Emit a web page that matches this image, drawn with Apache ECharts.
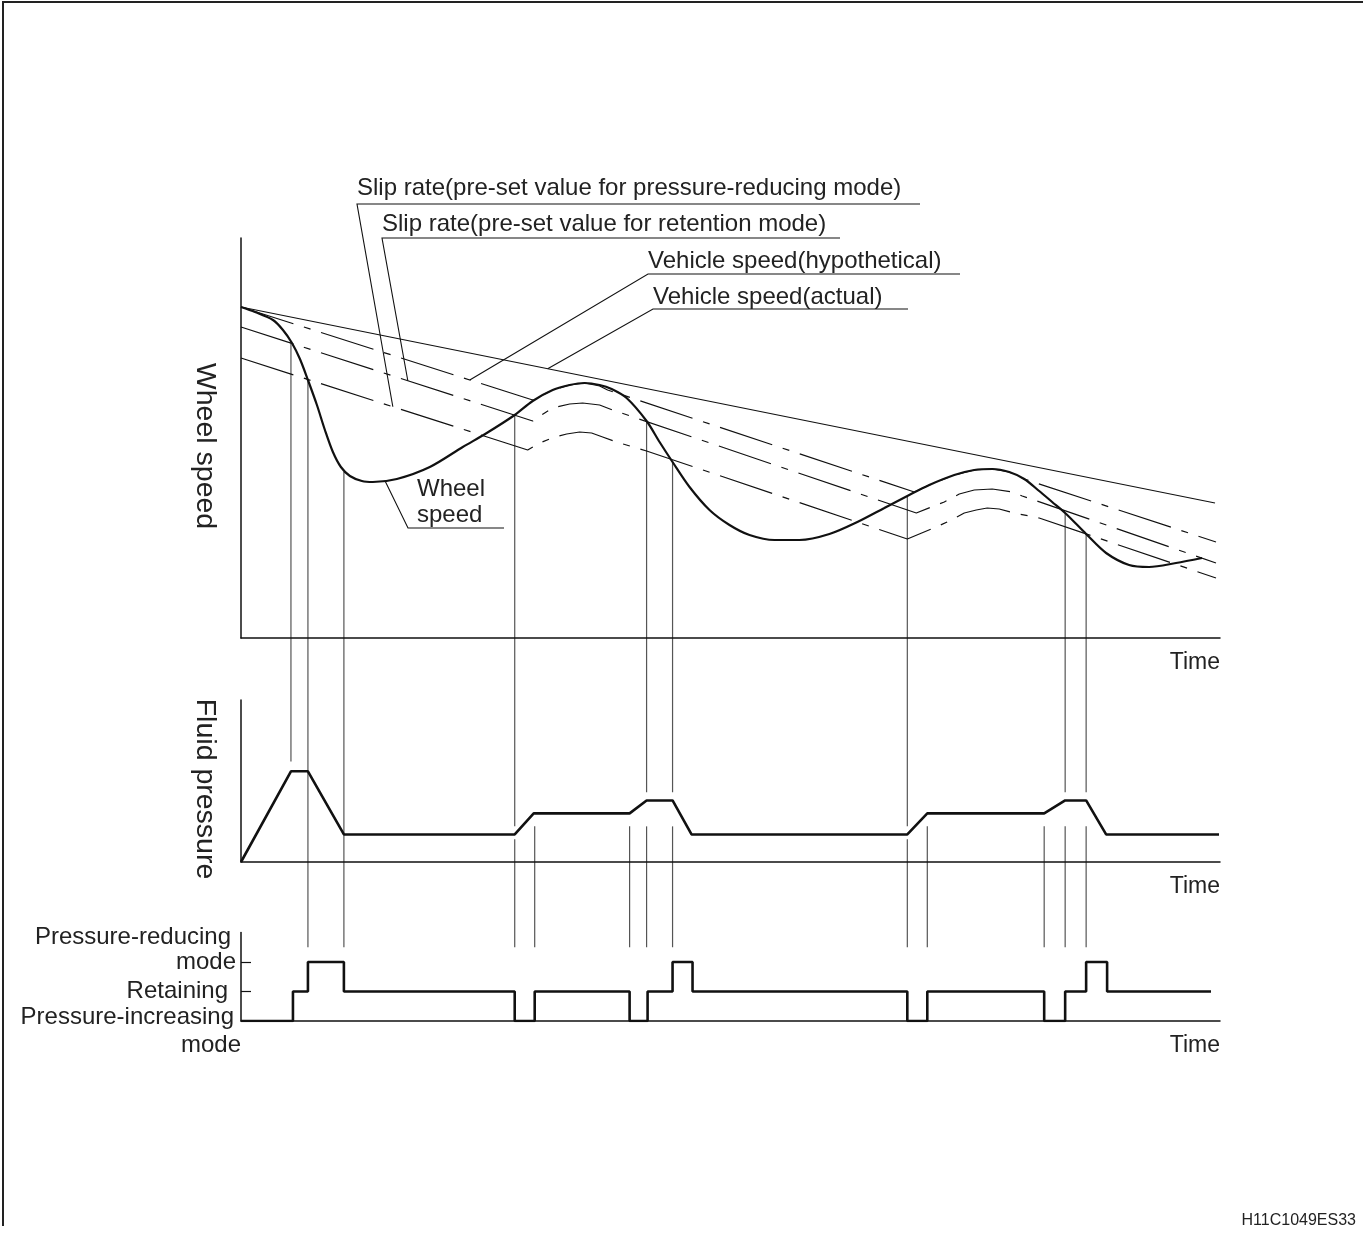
<!DOCTYPE html>
<html>
<head>
<meta charset="utf-8">
<title>Wheel speed, fluid pressure and control mode</title>
<script src="https://cdn.jsdelivr.net/npm/echarts@6/dist/echarts.min.js"></script>
<style>
  html, body { margin: 0; padding: 0; background: #fff; }
  #chart { width: 1363px; height: 1238px; }
</style>
</head>
<body>
<div id="chart"></div>
<script>
// shared time scale (arbitrary units) for all three panels
const timeMax = 98;

// upper panel: [time, speed]
const wheelSpeed = [
  [0, 82.75], [1.4, 81.5], [3.2, 79.5], [4.2, 77], [5.1, 73.75], [5.9, 69.75],
  [6.7, 64.5], [7.6, 58.25], [8.4, 52], [9.2, 46.5], [10.0, 42.75], [10.9, 40.5],
  [12.1, 39.25], [13.2, 39], [15.6, 39.75], [18.9, 42.75], [22.2, 47.75], [24.6, 51.25],
  [27.4, 55.75], [29.2, 59.25], [31.2, 62], [32.9, 63.25], [34.4, 63.75], [35.9, 63.25],
  [37.1, 62.25], [38.6, 60], [40.6, 54.25], [41.9, 49], [43.2, 44], [44.9, 37.75],
  [46.9, 32], [48.9, 28.25], [50.9, 25.75], [53.4, 24.5], [55.9, 24.5], [58.9, 26],
  [61.9, 29.25], [64.4, 32.5], [66.7, 35.5], [68.9, 38.25], [71.4, 40.75], [73.4, 42],
  [75.2, 42.25], [76.9, 41.5], [78.4, 39.75], [79.9, 36.75], [81.2, 34], [82.5, 31.25],
  [84.6, 26], [86.6, 21.25], [88.9, 18.25], [90.9, 17.75], [93.6, 18.75], [96.2, 20]
];
const vehicleActual = [[0, 82.75], [97.5, 33.75]];
const vehicleHypothetical = [
  [0, 82.75], [29.2, 59.5], [31.2, 62], [32.9, 63.25], [34.4, 63.75], [35.9, 63],
  [36.7, 62], [67.4, 36.5], [68.9, 38.25], [71.4, 40.75], [73.4, 42], [75.2, 42.25],
  [76.9, 41.5], [78.4, 39.75], [97.6, 24]
];
const slipRetention = [
  [0, 77.75], [29.2, 54.25], [30.4, 56.25], [31.2, 57.5], [32.9, 58.5], [34.2, 58.75],
  [35.9, 58.25], [37.2, 57], [67.6, 31.25], [69.1, 32.75], [70.4, 34], [71.9, 36],
  [73.4, 37], [75.2, 37.25], [77.2, 36.5], [78.2, 35.5], [79.1, 34.75], [97.6, 18.75]
];
const slipReducing = [
  [0, 70], [28.7, 47], [29.9, 48.75], [31.4, 50.25], [32.6, 51], [33.9, 51.5],
  [35.1, 51.25], [36.2, 50.25], [37.6, 49], [40.6, 46.75], [66.7, 24.75], [67.9, 26],
  [69.6, 27.75], [70.9, 29.25], [72.4, 31.25], [73.6, 32], [74.7, 32.5], [75.9, 32.25],
  [77.4, 31.25], [78.9, 30.5], [79.9, 30], [97.6, 15]
];

// middle panel: [time, pressure]
const fluidPressure = [
  [0, 0], [5.0, 5.6], [6.7, 5.6], [10.3, 1.7], [27.4, 1.7], [29.3, 3.0], [38.9, 3.0],
  [40.6, 3.8], [43.2, 3.8], [45.1, 1.7], [66.7, 1.7], [68.7, 3.0], [80.4, 3.0],
  [82.5, 3.8], [84.6, 3.8], [86.6, 1.7], [97.9, 1.7]
];

// lower panel: control mode (0 increasing, 1 retaining, 2 reducing), held from each time
const modeTimes = [0, 5.2, 6.7, 10.3, 27.4, 29.4, 38.9, 40.7, 43.2, 45.2, 66.7, 68.7, 80.4, 82.5, 84.6, 86.7, 97.1];
const modeLevels = [0, 1, 2, 1, 0, 1, 0, 1, 2, 1, 0, 1, 0, 1, 2, 1, 1];
const modeTickLabels = [['Pressure-increasing', 'mode'], ['Retaining'], ['Pressure-reducing', 'mode']];

// vertical guide lines: time, and spans [panel, value, panel, value]
const guides = [
  [5.0, [[0, 74, 1, 6.2]]],
  [6.7, [[0, 64.5, 2, 2.5]]],
  [10.3, [[0, 41.5, 2, 2.5]]],
  [27.4, [[0, 55.75, 1, 2.2], [1, 1.4, 2, 2.5]]],
  [29.4, [[1, 2.2, 2, 2.5]]],
  [38.9, [[1, 2.2, 2, 2.5]]],
  [40.6, [[0, 54.25, 1, 4.3], [1, 2.2, 2, 2.5]]],
  [43.2, [[0, 44, 1, 4.3], [1, 2.2, 2, 2.5]]],
  [66.7, [[0, 35.5, 1, 2.2], [1, 1.4, 2, 2.5]]],
  [68.7, [[1, 2.2, 2, 2.5]]],
  [80.4, [[1, 2.2, 2, 2.5]]],
  [82.5, [[0, 31.25, 1, 4.3], [1, 2.2, 2, 2.5]]],
  [84.6, [[0, 26, 1, 4.3], [1, 2.2, 2, 2.5]]]
];

const calloutTexts = [
  'Slip rate(pre-set value for pressure-reducing mode)',
  'Slip rate(pre-set value for retention mode)',
  'Vehicle speed(hypothetical)',
  'Vehicle speed(actual)',
  'Wheel\nspeed'
];

const FONT = '"Liberation Sans", Arial, Helvetica, sans-serif';
const INK = '#111';
const TEXT = '#222';
const dashDot = [55, 11, 7, 11];

const chart = echarts.init(document.getElementById('chart'));

function timeAxis(gridIndex) {
  return {
    gridIndex,
    type: 'value',
    min: 0,
    max: timeMax,
    axisLine: { show: true, lineStyle: { color: INK, width: 1.5 } },
    axisTick: { show: false },
    axisLabel: { show: false },
    splitLine: { show: false },
    name: 'Time',
    nameLocation: 'end',
    nameGap: 0,
    nameTextStyle: {
      color: TEXT, fontSize: 23, fontFamily: FONT,
      align: 'right', verticalAlign: 'top', padding: [13, 0, 0, 0]
    }
  };
}

function sideAxis(gridIndex, max, name) {
  return {
    gridIndex,
    type: 'value',
    min: 0,
    max,
    axisLine: { show: true, lineStyle: { color: INK, width: 1.5 } },
    axisTick: { show: false },
    axisLabel: { show: false },
    splitLine: { show: false },
    name,
    nameLocation: 'middle',
    nameRotate: -90,
    nameGap: 22,
    nameTextStyle: { color: TEXT, fontSize: 28.5, fontFamily: FONT, padding: [0, 0, 0, 16] }
  };
}

function line(name, data, gridIndex, width, type) {
  return {
    name,
    type: 'line',
    xAxisIndex: gridIndex,
    yAxisIndex: gridIndex,
    data,
    showSymbol: false,
    silent: true,
    lineStyle: { color: INK, width, type: type || 'solid' }
  };
}

const modeAxis = sideAxis(2, 3, '');
modeAxis.axisTick = {
  show: true, inside: true, length: 10, customValues: [1, 2],
  lineStyle: { color: INK, width: 1.2 }
};

const wheelSeries = line('Wheel speed', wheelSpeed, 0, 2.2);
wheelSeries.smooth = 0.3;

const modeSeries = line('Mode', modeTimes.map((t, i) => [t, modeLevels[i]]), 2, 2.6);
modeSeries.step = 'end';

chart.setOption({
  animation: false,
  backgroundColor: '#fff',
  title: {
    text: 'H11C1049ES33',
    right: 2,
    bottom: 4,
    textStyle: { color: TEXT, fontSize: 16, fontWeight: 'normal', fontFamily: FONT }
  },
  grid: [
    { left: 241, top: 238, width: 979, height: 400 },
    { left: 241, top: 700, width: 979, height: 162 },
    { left: 241, top: 932.5, width: 979, height: 88.5 }
  ],
  xAxis: [timeAxis(0), timeAxis(1), timeAxis(2)],
  yAxis: [sideAxis(0, 100, 'Wheel speed'), sideAxis(1, 10, 'Fluid pressure'), modeAxis],
  series: [
    line('Vehicle speed(actual)', vehicleActual, 0, 1.2),
    line('Vehicle speed(hypothetical)', vehicleHypothetical, 0, 1.2, dashDot),
    line('Slip rate retention', slipRetention, 0, 1.2, dashDot),
    line('Slip rate reducing', slipReducing, 0, 1.2, dashDot),
    wheelSeries,
    line('Fluid pressure', fluidPressure, 1, 2.6),
    modeSeries
  ]
});

// helpers working through the axes' own scales
function px(gridIndex, t, v) {
  return chart.convertToPixel({ gridIndex }, [t, v]);
}
function valueAt(data, t) {
  for (let i = 1; i < data.length; i++) {
    if (t <= data[i][0]) {
      const [t0, v0] = data[i - 1], [t1, v1] = data[i];
      return v0 + (v1 - v0) * (t - t0) / (t1 - t0);
    }
  }
  return data[data.length - 1][1];
}
function text(str, x, y, align) {
  return {
    type: 'text', silent: true, x, y,
    style: {
      text: str, fill: TEXT, fontSize: 24, fontFamily: FONT,
      lineHeight: 26, align: align || 'left', verticalAlign: 'middle'
    }
  };
}

const elements = [];

// frame
elements.push({
  type: 'polyline', silent: true,
  shape: { points: [[3, 1226], [3, 2], [1363, 2]] },
  style: { stroke: '#222', lineWidth: 2, fill: null }
});

guides.forEach(([t, spans]) => {
  spans.forEach(([g1, v1, g2, v2]) => {
    const a = px(g1, t, v1), b = px(g2, t, v2);
    elements.push({
      type: 'line', silent: true,
      shape: { x1: a[0], y1: a[1], x2: b[0], y2: b[1] },
      style: { stroke: '#555', lineWidth: 1.2 }
    });
  });
});

// mode labels beside the lower axis, hung on each level's tick
[
  [0, [[-7, -4], [0, 24]]],
  [1, [[-13, 0]]],
  [2, [[-10, -25], [-5, 0]]]
].forEach(([level, offsets]) => {
  const [ax, ay] = px(2, 0, level);
  modeTickLabels[level].forEach((str, i) => {
    elements.push(text(str, ax + offsets[i][0], ay + offsets[i][1], 'right'));
  });
});

// callouts: text, text anchor, underline end, and the point on the curve it marks
const callouts = [
  { text: calloutTexts[0], x: 357, y: 188, ul: 204, end: 920, target: px(0, 15.2, valueAt(slipReducing, 15.2)) },
  { text: calloutTexts[1], x: 382, y: 224, ul: 238, end: 840, target: px(0, 16.7, valueAt(slipRetention, 16.7)) },
  { text: calloutTexts[2], x: 648, y: 261, ul: 274, end: 960, target: px(0, 22.9, valueAt(vehicleHypothetical, 22.9)) },
  { text: calloutTexts[3], x: 653, y: 297, ul: 309, end: 908, target: px(0, 30.7, valueAt(vehicleActual, 30.7)) },
  { text: calloutTexts[4], x: 417, y: 502, ul: 528, end: 504, start: 408, target: px(0, 14.4, valueAt(wheelSpeed, 14.4)) }
];

callouts.forEach((c) => {
  const sx = c.start || c.x;
  elements.push({
    type: 'polyline', silent: true,
    shape: { points: [c.target, [sx, c.ul], [c.end, c.ul]] },
    style: { stroke: INK, lineWidth: 1.1, fill: null }
  });
  elements.push(text(c.text, c.x, c.y));
});

chart.setOption({ graphic: { elements } });
</script>
</body>
</html>
